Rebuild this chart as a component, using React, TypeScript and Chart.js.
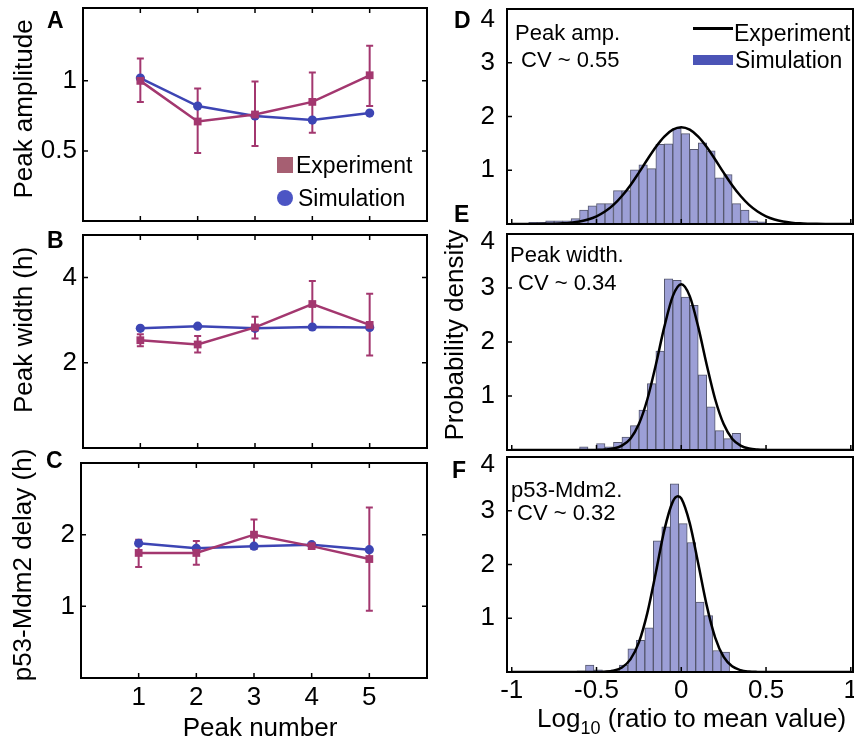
import React, { useEffect, useRef } from 'react';
import { Chart, registerables } from 'chart.js';

Chart.register(...registerables);

// ---------------- Data ----------------
const peakNumbers = [1, 2, 3, 4, 5];

const ampExp = [1.0, 0.71, 0.76, 0.85, 1.04];
const ampExpLow = [0.85, 0.485, 0.535, 0.63, 0.82];
const ampExpHigh = [1.16, 0.945, 0.995, 1.06, 1.25];
const ampSim = [1.02, 0.82, 0.75, 0.72, 0.77];

const widthExp = [2.53, 2.43, 2.83, 3.38, 2.89];
const widthExpLow = [2.39, 2.24, 2.57, 2.87, 2.17];
const widthExpHigh = [2.67, 2.63, 3.08, 3.92, 3.62];
const widthSim = [2.81, 2.86, 2.81, 2.84, 2.83];

const delayExp = [1.745, 1.745, 2.0, 1.84, 1.66];
const delayExpLow = [1.55, 1.58, 1.8, 1.82, 0.94];
const delayExpHigh = [1.93, 1.91, 2.21, 1.86, 2.38];
const delaySim = [1.88, 1.81, 1.84, 1.86, 1.79];

// histogram D (peak amplitude)
const histDCenters = [-0.875, -0.825, -0.775, -0.725, -0.675, -0.625, -0.575, -0.525, -0.475, -0.425, -0.375, -0.325, -0.275, -0.225, -0.175, -0.125, -0.075, -0.025, 0.025, 0.075, 0.125, 0.175, 0.225, 0.275, 0.325, 0.375, 0.425, 0.475];
const histDValues = [0.03, 0.03, 0.06, 0.06, 0.06, 0.1, 0.26, 0.34, 0.38, 0.38, 0.62, 0.62, 1.01, 1.1, 1.03, 1.48, 1.49, 1.78, 1.68, 1.39, 1.51, 1.36, 0.86, 0.92, 0.38, 0.26, 0.06, 0.04];

// histogram E (peak width)
const histECenters = [-0.575, -0.525, -0.475, -0.425, -0.375, -0.325, -0.275, -0.225, -0.175, -0.125, -0.075, -0.025, 0.025, 0.075, 0.125, 0.175, 0.225, 0.275, 0.325];
const histEValues = [0.06, 0, 0.12, 0.06, 0.14, 0.24, 0.45, 0.74, 1.23, 1.83, 3.17, 3.14, 2.83, 2.68, 1.39, 0.8, 0.36, 0.21, 0.31];

// histogram F (p53-Mdm2 delay)
const histFCenters = [-0.59, -0.54, -0.49, -0.44, -0.39, -0.34, -0.29, -0.24, -0.19, -0.14, -0.09, -0.04, 0.01, 0.06, 0.11, 0.16, 0.21, 0.26];
const histFValues = [0.02, 0.13, 0.04, 0.02, 0.04, 0.13, 0.43, 0.59, 0.82, 2.44, 2.7, 3.5, 2.76, 2.41, 1.3, 1.05, 0.4, 0.37];

// experiment fit curves
const curveX = [-1, -0.95, -0.9, -0.85, -0.8, -0.75, -0.7, -0.65, -0.6, -0.55, -0.5, -0.45, -0.4, -0.35, -0.3, -0.25, -0.2, -0.15, -0.1, -0.05, 0, 0.05, 0.1, 0.15, 0.2, 0.25, 0.3, 0.35, 0.4, 0.45, 0.5, 0.55, 0.6, 0.65, 0.7, 0.75, 0.8, 0.85, 0.9, 0.95, 1];
const curveD = [0, 0, 0, 0.001, 0.003, 0.006, 0.012, 0.025, 0.047, 0.084, 0.143, 0.231, 0.355, 0.52, 0.722, 0.955, 1.2, 1.433, 1.626, 1.755, 1.8, 1.755, 1.626, 1.433, 1.2, 0.955, 0.722, 0.52, 0.355, 0.231, 0.143, 0.084, 0.047, 0.025, 0.012, 0.006, 0.003, 0.001, 0, 0, 0];
const curveE = [0, 0, 0, 0, 0, 0, 0, 0, 0, 0, 0.002, 0.008, 0.027, 0.082, 0.21, 0.48, 0.94, 1.58, 2.28, 2.85, 3.07, 2.85, 2.28, 1.58, 0.94, 0.48, 0.21, 0.082, 0.027, 0.008, 0.002, 0, 0, 0, 0, 0, 0, 0, 0, 0, 0];
const curveFX = [-1, -0.95, -0.9, -0.85, -0.8, -0.75, -0.7, -0.65, -0.6, -0.55, -0.5, -0.45, -0.4, -0.35, -0.3, -0.25, -0.2, -0.15, -0.1, -0.05, -0.02, 0, 0.05, 0.1, 0.15, 0.2, 0.25, 0.3, 0.35, 0.4, 0.45, 0.5, 0.55, 0.6, 0.65, 0.7, 0.75, 0.8, 0.85, 0.9, 0.95, 1];
const curveF = [0, 0, 0, 0, 0, 0, 0, 0, 0, 0, 0.001, 0.007, 0.026, 0.084, 0.235, 0.55, 1.1, 1.85, 2.64, 3.17, 3.27, 3.23, 2.77, 2.02, 1.24, 0.64, 0.28, 0.105, 0.033, 0.009, 0.002, 0, 0, 0, 0, 0, 0, 0, 0, 0, 0, 0];

// tick values
const leftTicksX = [1, 2, 3, 4, 5];
const ampTicksY = [0.5, 1];
const widthTicksY = [2, 4];
const delayTicksY = [1, 2];
const histTicksX = [-1, -0.5, 0, 0.5, 1];
const histTicksY = [1, 2, 3, 4];

// ---------------- Style ----------------
const FONT = "'Liberation Sans', Arial, Helvetica, sans-serif";
const EXP_LINE = '#A3376F';
const SIM_LINE = '#3D45B4';
const EXP_LEGEND = '#A65F72';
const SIM_LEGEND = '#4C55C4';
const BAR_FILL = '#9C9FD6';
const BAR_EDGE = '#55576E';
const SIM_PATCH = '#4B54B6';

type Box = { l: number; t: number; r: number; b: number };
type Rect = { left: number; top: number; width: number; height: number };

const zeroPad = (s: any) => {
  s.paddingLeft = 0;
  s.paddingRight = 0;
  s.paddingTop = 0;
  s.paddingBottom = 0;
};

const plainLabel = (v: any) => String(v);

const framePlugin = {
  id: 'frame',
  afterDatasetsDraw(chart: any, _args: any, opts: any) {
    const { ctx, chartArea: a } = chart;
    const xs = chart.scales.x;
    const ys = chart.scales.y;
    const L = opts.len ?? 5;
    ctx.save();
    ctx.strokeStyle = '#000';
    ctx.lineWidth = 1.5;
    ctx.beginPath();
    for (const v of opts.xTicks || []) {
      const px = xs.getPixelForValue(v);
      ctx.moveTo(px, a.bottom);
      ctx.lineTo(px, a.bottom - L);
      if (opts.allSides) {
        ctx.moveTo(px, a.top);
        ctx.lineTo(px, a.top + L);
      }
    }
    for (const v of opts.yTicks || []) {
      const py = ys.getPixelForValue(v);
      ctx.moveTo(a.left, py);
      ctx.lineTo(a.left + L, py);
      if (opts.allSides) {
        ctx.moveTo(a.right, py);
        ctx.lineTo(a.right - L, py);
      }
    }
    ctx.stroke();
    ctx.lineWidth = 2;
    ctx.strokeRect(a.left, a.top, a.right - a.left, a.bottom - a.top);
    if (opts.shiftedLabel) {
      const { value, dy, pad } = opts.shiftedLabel;
      ctx.fillStyle = '#000';
      ctx.font = `26px ${FONT}`;
      ctx.textAlign = 'right';
      ctx.textBaseline = 'middle';
      ctx.fillText(String(value), a.left - pad, ys.getPixelForValue(value) + dy);
    }
    ctx.restore();
  },
};

const errPlugin = {
  id: 'errbars',
  beforeDatasetsDraw(chart: any, _args: any, opts: any) {
    if (!opts || !opts.x) return;
    const { ctx } = chart;
    const xs = chart.scales.x;
    const ys = chart.scales.y;
    const cap = 3.5;
    ctx.save();
    ctx.strokeStyle = opts.color;
    ctx.lineWidth = 2;
    opts.x.forEach((xv: number, i: number) => {
      const px = xs.getPixelForValue(xv);
      const lo = ys.getPixelForValue(opts.low[i]);
      const hi = ys.getPixelForValue(opts.high[i]);
      ctx.beginPath();
      ctx.moveTo(px, lo);
      ctx.lineTo(px, hi);
      ctx.moveTo(px - cap, lo);
      ctx.lineTo(px + cap, lo);
      ctx.moveTo(px - cap, hi);
      ctx.lineTo(px + cap, hi);
      ctx.stroke();
    });
    ctx.restore();
  },
};

function rectFor(g: Box, yW: number, padT: number, padR: number, xH: number): Rect {
  return { left: g.l - yW, top: g.t - padT, width: yW + (g.r - g.l) + padR, height: padT + (g.b - g.t) + xH };
}

const tickFont = { family: FONT, size: 26 };

function leftConfig(
  exp: number[], low: number[], high: number[], sim: number[],
  yMin: number, yMax: number, yTicks: number[], showX: boolean,
  yW: number, padT: number, padR: number, xH: number
) {
  return {
    type: 'line',
    data: {
      datasets: [
        {
          label: 'Experiment',
          data: peakNumbers.map((p, i) => ({ x: p, y: exp[i] })),
          borderColor: EXP_LINE,
          backgroundColor: EXP_LINE,
          pointBackgroundColor: EXP_LINE,
          pointBorderColor: EXP_LINE,
          pointStyle: 'rect',
          pointRadius: 5.5,
          pointBorderWidth: 0,
          borderWidth: 2.5,
          order: 0,
        },
        {
          label: 'Simulation',
          data: peakNumbers.map((p, i) => ({ x: p, y: sim[i] })),
          borderColor: SIM_LINE,
          backgroundColor: SIM_LINE,
          pointBackgroundColor: SIM_LINE,
          pointBorderColor: SIM_LINE,
          pointStyle: 'circle',
          pointRadius: 4.6,
          pointBorderWidth: 0,
          borderWidth: 2.5,
          order: 1,
        },
      ],
    },
    options: {
      animation: false,
      responsive: false,
      events: [],
      layout: { padding: { top: padT, right: padR, left: 0, bottom: 0 } },
      plugins: {
        legend: { display: false },
        tooltip: { enabled: false },
        frame: { xTicks: leftTicksX, yTicks: yTicks, allSides: true, len: 5 },
        errbars: { x: peakNumbers, low, high, color: EXP_LINE },
      },
      scales: {
        x: {
          type: 'linear',
          min: 0,
          max: 6,
          grid: { display: false, drawTicks: false },
          border: { display: false },
          ticks: { display: showX, padding: 4, font: tickFont, color: '#000', callback: plainLabel },
          afterBuildTicks: (s: any) => {
            s.ticks = leftTicksX.map((v) => ({ value: v }));
          },
          afterFit: (s: any) => {
            s.height = xH;
            zeroPad(s);
          },
        },
        y: {
          type: 'linear',
          min: yMin,
          max: yMax,
          grid: { display: false, drawTicks: false },
          border: { display: false },
          ticks: { padding: 6, font: tickFont, color: '#000', callback: plainLabel },
          afterBuildTicks: (s: any) => {
            s.ticks = yTicks.map((v) => ({ value: v }));
          },
          afterFit: (s: any) => {
            s.width = yW;
            zeroPad(s);
          },
        },
      },
    },
    plugins: [framePlugin, errPlugin],
  };
}

function histConfig(
  centers: number[], values: number[], cx: number[], cy: number[], showX: boolean,
  yW: number, padT: number, padR: number, xH: number, labelShift: number
) {
  return {
    type: 'bar',
    data: {
      datasets: [
        {
          type: 'line',
          data: cx.map((x, i) => ({ x, y: cy[i] })),
          borderColor: '#000',
          borderWidth: 2.5,
          pointRadius: 0,
          cubicInterpolationMode: 'monotone',
          fill: false,
          order: 0,
        },
        {
          type: 'bar',
          data: centers.map((x, i) => ({ x, y: values[i] })),
          backgroundColor: BAR_FILL,
          borderColor: BAR_EDGE,
          borderWidth: 1,
          barPercentage: 1,
          categoryPercentage: 1,
          order: 1,
        },
      ],
    },
    options: {
      animation: false,
      responsive: false,
      events: [],
      layout: { padding: { top: padT, right: padR, left: 0, bottom: 0 } },
      plugins: {
        legend: { display: false },
        tooltip: { enabled: false },
        frame: { xTicks: histTicksX, yTicks: histTicksY, allSides: false, len: 5, shiftedLabel: { value: 4, dy: labelShift, pad: 12 } },
      },
      scales: {
        x: {
          type: 'linear',
          min: -1.028,
          max: 1.013,
          offset: false,
          grid: { display: false, drawTicks: false, offset: false },
          border: { display: false },
          ticks: { display: showX, padding: 3, font: tickFont, color: '#000', callback: plainLabel },
          afterBuildTicks: (s: any) => {
            s.ticks = histTicksX.map((v) => ({ value: v }));
          },
          afterFit: (s: any) => {
            s.height = xH;
            zeroPad(s);
          },
        },
        y: {
          type: 'linear',
          min: 0,
          max: 4,
          grid: { display: false, drawTicks: false },
          border: { display: false },
          ticks: {
            padding: 12,
            font: tickFont,
            color: '#000',
            callback: (v: any) => (v === 4 ? '' : String(v)),
          },
          afterBuildTicks: (s: any) => {
            s.ticks = histTicksY.map((v) => ({ value: v }));
          },
          afterFit: (s: any) => {
            s.width = yW;
            zeroPad(s);
          },
        },
      },
    },
    plugins: [framePlugin],
  };
}

function ChartBox({ rect, build }: { rect: Rect; build: () => any }) {
  const ref = useRef<HTMLCanvasElement>(null);
  useEffect(() => {
    const chart = new Chart(ref.current as HTMLCanvasElement, build() as any);
    return () => chart.destroy();
  }, []);
  return (
    <canvas
      ref={ref}
      width={rect.width}
      height={rect.height}
      style={{ position: 'absolute', left: rect.left, top: rect.top, width: rect.width, height: rect.height }}
    />
  );
}

const Txt = ({ x, y, s, bold, children }: { x: number; y: number; s: number; bold?: boolean; children: any }) => (
  <div
    style={{
      position: 'absolute',
      left: x,
      top: y,
      fontSize: s,
      lineHeight: `${s}px`,
      fontWeight: bold ? 'bold' : 'normal',
      whiteSpace: 'nowrap',
      color: '#000',
    }}
  >
    {children}
  </div>
);

const VTxt = ({ cx, cy, s, children }: { cx: number; cy: number; s: number; children: any }) => (
  <div
    style={{
      position: 'absolute',
      left: cx,
      top: cy,
      fontSize: s,
      lineHeight: `${s}px`,
      whiteSpace: 'nowrap',
      color: '#000',
      transform: 'translate(-50%, -50%) rotate(-90deg)',
    }}
  >
    {children}
  </div>
);

// panel boxes (plot areas)
const boxA: Box = { l: 83, t: 8, r: 427, b: 221 };
const boxB: Box = { l: 83, t: 235, r: 427, b: 448 };
const boxC: Box = { l: 81, t: 463, r: 427, b: 678 };
const boxD: Box = { l: 507, t: 9, r: 853, b: 224 };
const boxE: Box = { l: 507, t: 234, r: 853, b: 450 };
const boxF: Box = { l: 507, t: 457, r: 853, b: 672 };

export default function App() {
  const rA = rectFor(boxA, 75, 10, 12, 10);
  const rB = rectFor(boxB, 75, 10, 12, 10);
  const rC = rectFor(boxC, 75, 10, 12, 45);
  const rD = rectFor(boxD, 45, 12, 10, 8);
  const rE = rectFor(boxE, 45, 12, 10, 8);
  const rF = rectFor(boxF, 45, 12, 10, 40);

  return (
    <div
      style={{
        position: 'fixed',
        left: 0,
        top: 0,
        width: 854,
        height: 737,
        overflow: 'hidden',
        background: '#fff',
        fontFamily: FONT,
      }}
    >
      <ChartBox rect={rA} build={() => leftConfig(ampExp, ampExpLow, ampExpHigh, ampSim, 0, 1.52, ampTicksY, false, 75, 10, 12, 10)} />
      <ChartBox rect={rB} build={() => leftConfig(widthExp, widthExpLow, widthExpHigh, widthSim, 0, 5, widthTicksY, false, 75, 10, 12, 10)} />
      <ChartBox rect={rC} build={() => leftConfig(delayExp, delayExpLow, delayExpHigh, delaySim, 0, 3, delayTicksY, true, 75, 10, 12, 45)} />
      <ChartBox rect={rD} build={() => histConfig(histDCenters, histDValues, curveX, curveD, false, 45, 12, 10, 8, 11)} />
      <ChartBox rect={rE} build={() => histConfig(histECenters, histEValues, curveX, curveE, false, 45, 12, 10, 8, 8)} />
      <ChartBox rect={rF} build={() => histConfig(histFCenters, histFValues, curveFX, curveF, true, 45, 12, 10, 40, 8)} />

      {/* panel letters */}
      <Txt x={47} y={9} s={23} bold>A</Txt>
      <Txt x={47} y={229} s={23} bold>B</Txt>
      <Txt x={46} y={449} s={23} bold>C</Txt>
      <Txt x={454} y={9} s={23} bold>D</Txt>
      <Txt x={454} y={203} s={23} bold>E</Txt>
      <Txt x={452} y={459} s={23} bold>F</Txt>

      {/* axis titles */}
      <VTxt cx={23} cy={109} s={26}>Peak amplitude</VTxt>
      <VTxt cx={23} cy={330} s={26}>Peak width (h)</VTxt>
      <VTxt cx={22} cy={565} s={26}>p53-Mdm2 delay (h)</VTxt>
      <VTxt cx={454} cy={335} s={26}>Probability density</VTxt>
      <div
        style={{
          position: 'absolute',
          left: 260,
          top: 714,
          fontSize: 26,
          lineHeight: '26px',
          whiteSpace: 'nowrap',
          transform: 'translateX(-50%)',
        }}
      >
        Peak number
      </div>
      <div style={{ position: 'absolute', left: 537, top: 705, fontSize: 26, lineHeight: '26px', whiteSpace: 'nowrap' }}>
        Log<span style={{ fontSize: 18, position: 'relative', top: 7 }}>10</span> (ratio to mean value)
      </div>

      {/* legend A */}
      <div style={{ position: 'absolute', left: 277, top: 157, width: 16, height: 16, background: EXP_LEGEND }} />
      <Txt x={296} y={154} s={23}>Experiment</Txt>
      <div style={{ position: 'absolute', left: 277, top: 190, width: 16, height: 16, borderRadius: 8, background: SIM_LEGEND }} />
      <Txt x={298} y={187} s={23}>Simulation</Txt>

      {/* legend D */}
      <div style={{ position: 'absolute', left: 693, top: 26.5, width: 40, height: 3, background: '#000' }} />
      <Txt x={734} y={22} s={23}>Experiment</Txt>
      <div style={{ position: 'absolute', left: 693, top: 55, width: 40, height: 10, background: SIM_PATCH }} />
      <Txt x={735} y={49} s={23}>Simulation</Txt>

      {/* annotations */}
      <Txt x={515} y={22} s={22}>Peak amp.</Txt>
      <Txt x={521} y={49} s={22}>CV ~ 0.55</Txt>
      <Txt x={510} y={244} s={22}>Peak width.</Txt>
      <Txt x={518} y={272} s={22}>CV ~ 0.34</Txt>
      <Txt x={511} y={479} s={22}>p53-Mdm2.</Txt>
      <Txt x={517} y={502} s={22}>CV ~ 0.32</Txt>
    </div>
  );
}
